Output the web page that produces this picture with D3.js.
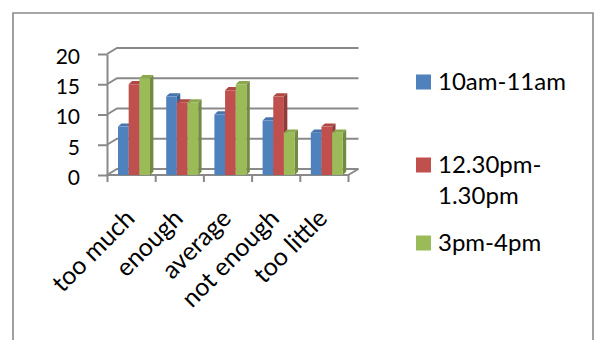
<!DOCTYPE html>
<html>
<head>
<meta charset="utf-8">
<script src="https://cdn.jsdelivr.net/npm/d3@7"></script>
<style>
  html, body { margin: 0; padding: 0; background: #fff; }
  svg { display: block; font-family: Lato, "Open Sans", sans-serif; }
</style>
</head>
<body>
<svg id="chart" width="598" height="340"></svg>
<script>
// Survey answers by time slot
const categories = ["too much", "enough", "average", "not enough", "too little"];
const seriesNames = ["10am-11am", "12.30pm-1.30pm", "3pm-4pm"];
const legendLines = [["10am-11am"], ["12.30pm-", "1.30pm"], ["3pm-4pm"]];
const morning = [8, 13, 10, 9, 7];
const midday = [15, 12, 14, 13, 8];
const afternoon = [16, 12, 15, 7, 7];
const yTicks = [0, 5, 10, 15, 20];

const seriesValues = [morning, midday, afternoon];
const colors = ["#4F81BD", "#C0504D", "#9BBB59"];
const sideColors = ["#3A6297", "#8E3B39", "#728A41"];
const topColors = ["#4674AB", "#AE4845", "#8BA84F"];

const svg = d3.select("#chart");
const gridColor = "#898989";

// chart frame
svg.append("path")
  .attr("d", "M13,345 L13,13 L593,13 L593,345")
  .attr("fill", "none").attr("stroke", gridColor).attr("stroke-width", 1.6);

// scales
const x = d3.scaleBand().domain(categories).range([107, 348]);
const xs = d3.scaleBand().domain(seriesNames).range([11, 43]);
const y = d3.scaleLinear().domain([0, 20]).range([175, 54]);

// wall depth and bar depth (oblique projection offsets)
const wallDx = 10, wallDy = -6;
const barDx = 3.4, barDy = -3.2;

// back wall gridlines with the side-wall diagonals
const grid = svg.append("g");
yTicks.forEach(t => {
  const yy = y(t);
  grid.append("path")
    .attr("d", `M${x.range()[0]},${yy} L${x.range()[0] + wallDx},${yy + wallDy} L${x.range()[1] + wallDx + 0.5},${yy + wallDy}`)
    .attr("fill", "none").attr("stroke", gridColor).attr("stroke-width", 2);
});
// floor front edge and right diagonal
grid.append("path")
  .attr("d", `M${x.range()[0]},${y(0)} L${x.range()[1]},${y(0)} L${x.range()[1] + wallDx + 0.5},${y(0) + wallDy}`)
  .attr("fill", "none").attr("stroke", gridColor).attr("stroke-width", 2);

// bars: front face, side face, top face
const bars = svg.append("g");
categories.forEach((c, ci) => {
  seriesNames.forEach((s, si) => {
    const v = seriesValues[si][ci];
    const x0 = x(c) + xs(s), w = xs.bandwidth();
    const yTop = y(v), yBot = y(0);
    const g = bars.append("g");
    // side
    g.append("path")
      .attr("d", `M${x0 + w},${yBot} L${x0 + w + barDx},${yBot + barDy} L${x0 + w + barDx},${yTop + barDy} L${x0 + w},${yTop} Z`)
      .attr("fill", sideColors[si]);
    // top
    g.append("path")
      .attr("d", `M${x0},${yTop} L${x0 + barDx},${yTop + barDy} L${x0 + w + barDx},${yTop + barDy} L${x0 + w},${yTop} Z`)
      .attr("fill", topColors[si]);
    // front
    g.append("rect")
      .attr("x", x0).attr("y", yTop).attr("width", w).attr("height", yBot - yTop)
      .attr("fill", colors[si]);
  });
});

// value axis
const yAxis = svg.append("g")
  .attr("transform", `translate(${x.range()[0]},0)`)
  .call(d3.axisLeft(y).tickValues(yTicks).tickSizeInner(9).tickSizeOuter(0).tickPadding(18));
yAxis.select(".domain").attr("stroke", gridColor).attr("stroke-width", 2);
yAxis.selectAll(".tick line").attr("stroke", gridColor).attr("stroke-width", 2);
yAxis.selectAll(".tick text")
  .attr("font-size", 21).attr("fill", "#000").attr("dy", "0.45em")
  .style("font-family", "Lato, sans-serif");

// category axis: ticks at band boundaries
const xEdges = d3.scaleLinear().domain([0, categories.length]).range(x.range());
const xAxis = svg.append("g")
  .attr("transform", `translate(0,${y(0)})`)
  .call(d3.axisBottom(xEdges).ticks(categories.length).tickFormat("").tickSizeInner(7).tickSizeOuter(0));
xAxis.select(".domain").remove();
xAxis.selectAll(".tick line").attr("stroke", gridColor).attr("stroke-width", 2);

// rotated category labels
svg.append("g").selectAll("text")
  .data(categories)
  .join("text")
  .attr("transform", d => `translate(${x(d) + x.bandwidth() / 2 + 5},${220}) rotate(-45)`)
  .attr("text-anchor", "end")
  .attr("font-size", 25)
  .attr("fill", "#000")
  .text(d => d);

// legend
const legendY = [89.5, 172.5, 250.5];
const legend = svg.append("g");
seriesNames.forEach((s, i) => {
  legend.append("rect")
    .attr("x", 416).attr("y", legendY[i] - 15).attr("width", 15).attr("height", 15)
    .attr("fill", colors[i]);
  const t = legend.append("text")
    .attr("x", 438).attr("y", legendY[i])
    .attr("font-size", 24).attr("fill", "#000");
  legendLines[i].forEach((line, li) => {
    t.append("tspan").attr("x", 438).attr("dy", li === 0 ? 0 : 31.5).text(line);
  });
});
</script>
</body>
</html>
